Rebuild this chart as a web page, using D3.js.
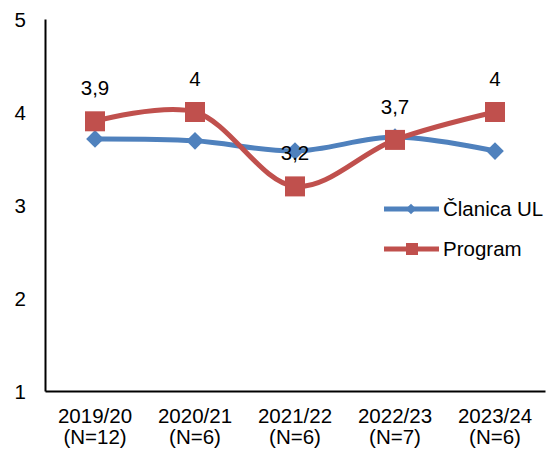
<!DOCTYPE html>
<html><head><meta charset="utf-8">
<script src="https://cdn.jsdelivr.net/npm/d3@7"></script>
<style>body{margin:0;background:#fff}svg{display:block}text{font-family:"Liberation Sans",Arial,sans-serif;fill:#000}</style>
</head><body><svg id="c" width="554" height="455"></svg>
<script>
const categories = ["2019/20|(N=12)","2020/21|(N=6)","2021/22|(N=6)","2022/23|(N=7)","2023/24|(N=6)"];
const clanica = [3.71, 3.69, 3.58, 3.73, 3.58];
const program = [3.9, 4.0, 3.2, 3.7, 4.0];
const programLabels = ["3,9","4","3,2","3,7","4"];
const yTicks = [1,2,3,4,5];
const seriesNames = ["Članica UL","Program"];
const colors = ["#4F81BD","#C0504D"];

(function(){
const svg = d3.select("#c");
const mL = 45, mR = 545, mT = 19, mB = 391;
const x = d3.scaleBand().domain(categories).range([mL, mR]);
const y = d3.scaleLinear().domain([1,5]).range([mB, mT]);
const fs = 20.5;

const yAxis = svg.append("g").attr("transform",`translate(${mL},0)`).call(d3.axisLeft(y).tickValues(yTicks).tickSize(0).tickPadding(19).tickFormat(d3.format("d")));
yAxis.select(".domain").attr("stroke","#000").attr("stroke-width",2);
yAxis.selectAll("text").attr("font-size",fs).attr("font-family","Liberation Sans, Arial, sans-serif").attr("fill","#000").attr("dy","0.35em");

const xAxis = svg.append("g").attr("transform",`translate(0,${mB})`).call(d3.axisBottom(x).tickSize(0).tickFormat(""));
xAxis.select(".domain").attr("stroke","#000").attr("stroke-width",2);
xAxis.selectAll(".tick").each(function(d){
  const parts = d.split("|");
  const t = d3.select(this).append("text").attr("text-anchor","middle").attr("font-size",fs).attr("fill","#000").attr("font-family","Liberation Sans, Arial, sans-serif");
  t.append("tspan").attr("x",0).attr("y",32).text(parts[0]);
  t.append("tspan").attr("x",0).attr("y",53).text(parts[1]);
});

const cx = c => x(c) + x.bandwidth()/2;
const line = d3.line().x((d,i)=>cx(categories[i])).y(d=>y(d)).curve(d3.curveCatmullRom.alpha(0.5));

svg.append("path").datum(clanica).attr("d",line).attr("fill","none").attr("stroke",colors[0]).attr("stroke-width",5);
svg.selectAll(".dia").data(clanica).enter().append("path")
  .attr("d",d3.symbol().type(d3.symbolDiamond2).size(200))
  .attr("transform",(d,i)=>`translate(${cx(categories[i])},${y(d)})`).attr("fill",colors[0]);

svg.append("path").datum(program).attr("d",line).attr("fill","none").attr("stroke",colors[1]).attr("stroke-width",5);
svg.selectAll(".sq").data(program).enter().append("rect")
  .attr("x",(d,i)=>cx(categories[i])-10).attr("y",d=>y(d)-10).attr("width",20).attr("height",20).attr("fill",colors[1]);
svg.selectAll(".lbl").data(program).enter().append("text")
  .attr("x",(d,i)=>cx(categories[i])).attr("y",d=>y(d)-26).attr("text-anchor","middle").attr("font-size",fs)
  .text((d,i)=>programLabels[i]);

const lg = svg.append("g");
[0,1].forEach(i=>{
  const ly = 209 + i*40;
  lg.append("line").attr("x1",384).attr("x2",439).attr("y1",ly).attr("y2",ly).attr("stroke",colors[i]).attr("stroke-width",5);
  if(i===0) lg.append("path").attr("d",d3.symbol().type(d3.symbolDiamond2).size(70)).attr("transform",`translate(411,${ly})`).attr("fill",colors[0]);
  else lg.append("rect").attr("x",406).attr("y",ly-6).attr("width",12).attr("height",12).attr("fill",colors[1]);
  lg.append("text").attr("x",443).attr("y",ly+7).attr("font-size",fs).text(seriesNames[i]);
});
})();
</script></body></html>
